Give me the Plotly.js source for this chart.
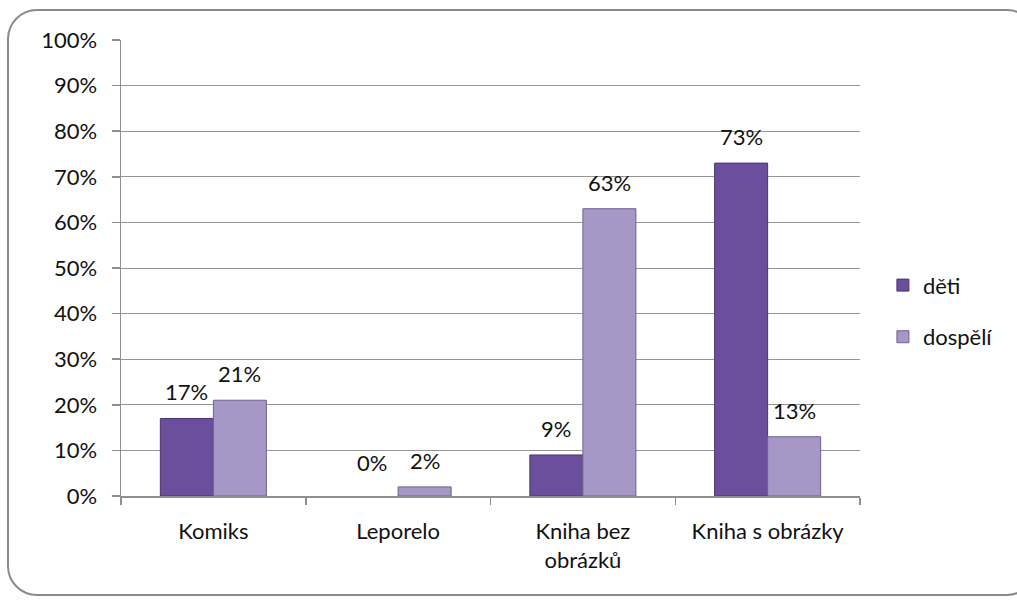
<!DOCTYPE html>
<html>
<head>
<meta charset="utf-8">
<script src="https://cdn.plot.ly/plotly-3.0.1.min.js"></script>
<style>
  html, body { margin: 0; padding: 0; background: #ffffff; overflow: hidden; }
  #frame { position: absolute; left: 7px; top: 9px; width: 1030px; height: 587px;
           border: 2px solid #8a8a8a; border-radius: 30px; box-sizing: border-box; }
  #chart { position: absolute; left: 0; top: 0; width: 1017px; height: 606px; }
</style>
</head>
<body>
<div id="frame"></div>
<div id="chart"></div>
<script>
const categories = ["Komiks", "Leporelo", "Kniha bez<br>obrázků", "Kniha s obrázky"];
const seriesNames = ["děti", "dospělí"];
const deti = [0.17, 0.00, 0.09, 0.73];
const dospeli = [0.21, 0.02, 0.63, 0.13];
const yTickVals = [0, 0.1, 0.2, 0.3, 0.4, 0.5, 0.6, 0.7, 0.8, 0.9, 1.0];
const yTickText = ["0%", "10%", "20%", "30%", "40%", "50%", "60%", "70%", "80%", "90%", "100%"];

const FONT = "Lato, 'Open Sans', sans-serif";
const FS = 22;
const colors = ["#6c4f9c", "#a797c7"];
const lines = ["#4a3473", "#6f6290"];

const series = [deti, dospeli];
const traces = series.map((vals, i) => ({
  type: "bar",
  name: seriesNames[i],
  legendgroup: "g" + i,
  x: categories,
  y: vals,
  marker: { color: colors[i], line: { color: lines[i], width: vals.map(v => v > 0 ? 1 : 0) } },
  hoverinfo: "skip"
}));

const annotations = [];
series.forEach((vals, i) => {
  vals.forEach((v, j) => {
    annotations.push({
      x: categories[j], y: v, xref: "x", yref: "y",
      text: Math.round(v * 100) + "%",
      showarrow: false, yanchor: "bottom",
      xshift: (i === 0 ? -26.5 : 26.5), yshift: (v > 0 ? 11 : 18),
      font: { family: FONT, size: FS, color: "#111111" }
    });
  });
});

const layout = {
  width: 1017, height: 606,
  paper_bgcolor: "rgba(0,0,0,0)", plot_bgcolor: "rgba(0,0,0,0)",
  margin: { l: 121, r: 157, t: 40, b: 110 },
  barmode: "group", bargap: 0.426, bargroupgap: 0,
  font: { family: FONT, size: FS, color: "#111111" },
  showlegend: true,
  legend: { x: 1.031, xanchor: "left", y: 0.405, yanchor: "middle",
            traceorder: "grouped", tracegroupgap: 20,
            font: { family: FONT, size: FS, color: "#111111" },
            itemwidth: 30 },
  xaxis: { type: "category", showgrid: false, showline: true, linecolor: "#8f8f8f", linewidth: 1.5,
           ticks: "outside", tickson: "boundaries", ticklen: 7, tickcolor: "#8f8f8f", tickwidth: 1.5,
           ticklabelstandoff: 15, tickfont: { family: FONT, size: FS, color: "#111111" } },
  yaxis: { range: [0, 1], tickvals: yTickVals, ticktext: yTickText, showgrid: true,
           gridcolor: "#959595", gridwidth: 1, zeroline: false,
           showline: true, linecolor: "#8f8f8f", linewidth: 1.5,
           ticks: "outside", ticklen: 8, tickcolor: "#8f8f8f", tickwidth: 1.5,
           ticklabelstandoff: 10, tickfont: { family: FONT, size: FS, color: "#111111" } },
  annotations: annotations
};

Plotly.newPlot("chart", traces, layout, { staticPlot: true, displayModeBar: false });
</script>
</body>
</html>
